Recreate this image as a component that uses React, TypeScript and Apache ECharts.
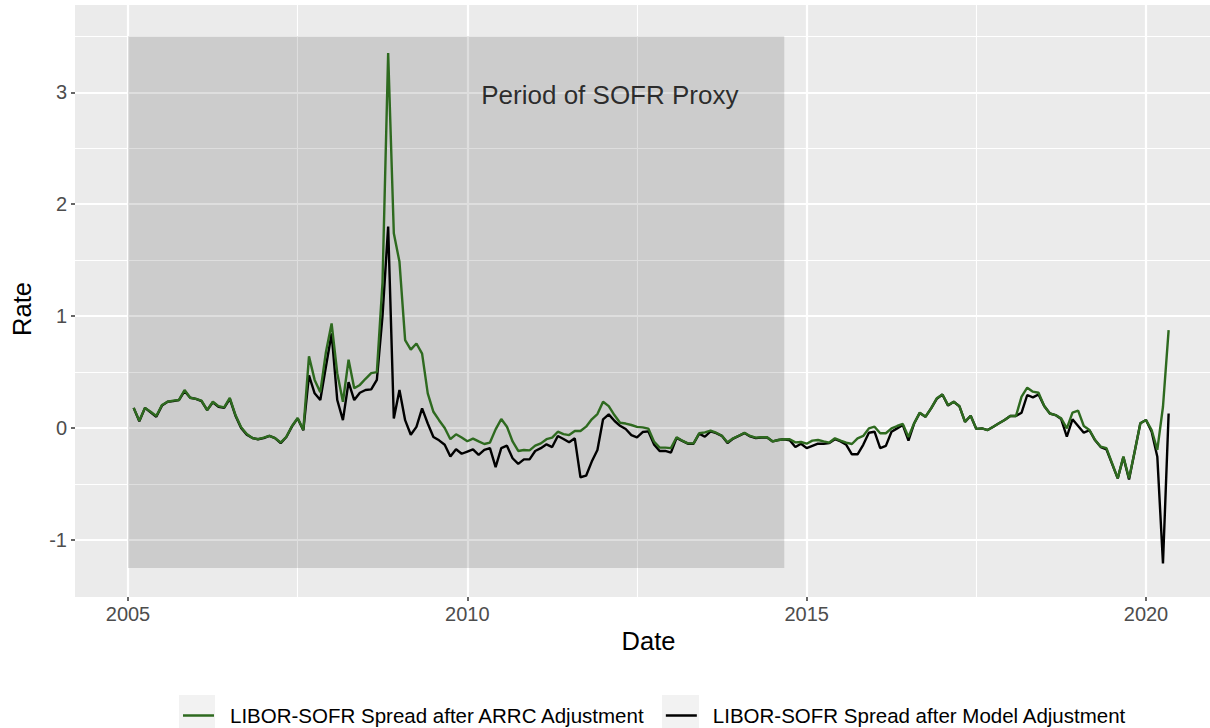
import React, { useEffect, useRef } from "react";
import * as echarts from "echarts";

// ---------- data (monthly, end of month, Jan 2005 .. Apr 2020) ----------
const startYear = 2005;
const arrcSpread: number[] = [
  0.18, 0.065, 0.18, 0.145, 0.107, 0.205, 0.235, 0.245, 0.25, 0.34,
  0.27, 0.26, 0.245, 0.16, 0.235, 0.196, 0.185, 0.27, 0.116, 0.006,
  -0.054, -0.09, -0.1, -0.086, -0.07, -0.09, -0.13, -0.078, 0.018, 0.09,
  -0.018, 0.64, 0.43, 0.32, 0.68, 0.935, 0.49, 0.235, 0.61, 0.355,
  0.385, 0.44, 0.49, 0.5, 1.3, 3.35, 1.74, 1.485, 0.785, 0.7,
  0.755, 0.665, 0.31, 0.145, 0.07, 0.0, -0.1, -0.056, -0.085, -0.118,
  -0.095, -0.12, -0.143, -0.13, -0.012, 0.08, 0.012, -0.12, -0.205, -0.196,
  -0.2, -0.158, -0.137, -0.1, -0.086, -0.033, -0.054, -0.063, -0.027, -0.027,
  0.012, 0.078, 0.125, 0.235, 0.196, 0.116, 0.047, 0.04, 0.027, 0.01,
  0.006, -0.005, -0.12, -0.175, -0.175, -0.18, -0.082, -0.113, -0.137, -0.137,
  -0.047, -0.039, -0.024, -0.042, -0.069, -0.128, -0.092, -0.069, -0.042, -0.071,
  -0.086, -0.083, -0.083, -0.12, -0.107, -0.1, -0.1, -0.128, -0.125, -0.14,
  -0.113, -0.107, -0.12, -0.13, -0.092, -0.113, -0.13, -0.143, -0.092, -0.071,
  -0.003, 0.012, -0.047, -0.047, -0.003, 0.018, 0.036, -0.08, 0.042, 0.137,
  0.101, 0.176, 0.265, 0.3, 0.205, 0.235, 0.196, 0.056, 0.11, -0.008,
  -0.003, -0.018, 0.012, 0.042, 0.071, 0.107, 0.107, 0.28, 0.36, 0.325,
  0.315, 0.196, 0.13, 0.116, 0.086, -0.003, 0.137, 0.155, 0.018, -0.018,
  -0.107, -0.167, -0.18, -0.315, -0.45, -0.256, -0.45, -0.21, 0.042, 0.071,
  -0.018, -0.196, 0.19, 0.875,
];
const modelSpread: number[] = [
  0.18, 0.06, 0.18, 0.14, 0.1, 0.2, 0.235, 0.24, 0.25, 0.33,
  0.27, 0.26, 0.24, 0.16, 0.23, 0.19, 0.18, 0.26, 0.11, 0.0,
  -0.06, -0.09, -0.1, -0.09, -0.07, -0.09, -0.135, -0.08, 0.015, 0.086,
  -0.02, 0.47, 0.31, 0.25, 0.55, 0.845, 0.25, 0.07, 0.41, 0.25,
  0.315, 0.34, 0.345, 0.43, 1.0, 1.8, 0.086, 0.34, 0.07, -0.06,
  0.01, 0.175, 0.04, -0.08, -0.11, -0.15, -0.255, -0.19, -0.23, -0.21,
  -0.19, -0.24, -0.196, -0.18, -0.35, -0.18, -0.158, -0.27, -0.32, -0.28,
  -0.28, -0.205, -0.18, -0.146, -0.17, -0.071, -0.098, -0.128, -0.092, -0.44,
  -0.426, -0.3, -0.196, 0.078, 0.122, 0.065, 0.02, -0.009, -0.063, -0.083,
  -0.036, -0.03, -0.146, -0.205, -0.205, -0.22, -0.088, -0.115, -0.14, -0.14,
  -0.05, -0.078, -0.03, -0.045, -0.07, -0.135, -0.095, -0.07, -0.045, -0.075,
  -0.09, -0.085, -0.085, -0.12, -0.107, -0.1, -0.11, -0.17, -0.14, -0.18,
  -0.16, -0.14, -0.14, -0.135, -0.1, -0.12, -0.15, -0.235, -0.235, -0.15,
  -0.042, -0.033, -0.18, -0.16, -0.033, -0.003, 0.027, -0.113, 0.04, 0.135,
  0.1, 0.175, 0.26, 0.3, 0.2, 0.235, 0.195, 0.055, 0.11, -0.008,
  -0.003, -0.018, 0.012, 0.042, 0.071, 0.107, 0.107, 0.137, 0.295, 0.274,
  0.3, 0.196, 0.13, 0.116, 0.08, -0.078, 0.078, 0.018, -0.042, -0.02,
  -0.11, -0.17, -0.19, -0.32, -0.45, -0.26, -0.46, -0.21, 0.042, 0.071,
  -0.033, -0.256, -1.21, 0.13,
];
const seriesNames = [
  "LIBOR-SOFR Spread after ARRC Adjustment",
  "LIBOR-SOFR Spread after Model Adjustment",
];
const proxyPeriod = { x: [2005, 2014.67], y: [-1.25, 3.5] };
const proxyLabel = { text: "Period of SOFR Proxy", x: 2012.1, y: 2.98 };
const xTicks = { min: 2005, max: 2020, step: 5 };
const yTicks = { min: -1, max: 3, step: 1 };

// ---------- layout ----------
const W = 1210;
const H = 728;
const X0 = 75, X1 = 1210; // panel pixel edges (panel runs past the right edge)
const Y0 = 5, Y1 = 597;
const xMin = 2004.219, xMax = 2020.943;
const yMin = -1.51, yMax = 3.78;
const px = (v: number) => X0 + ((v - xMin) * (X1 - X0)) / (xMax - xMin);
const py = (v: number) => Y0 + ((yMax - v) * (Y1 - Y0)) / (yMax - yMin);
const FONT = "'Liberation Sans', Arial, Helvetica, sans-serif";

export default function App() {
  const ref = useRef<HTMLDivElement>(null);
  useEffect(() => {
    if (!ref.current) return;
    const chart = echarts.init(ref.current, undefined, { renderer: "svg" });
    const dates = arrcSpread.map((_, i) => startYear + (i + 1) / 12);
    const arrcData = dates.map((d, i) => [d, arrcSpread[i]]);
    const modelData = dates.map((d, i) => [d, modelSpread[i]]);

    const hiddenAxis = (gridIndex: number) => ({
      type: "value", gridIndex, min: 0, max: 1, show: false,
    });
    const majorLine = { show: true, lineStyle: { color: "#FFFFFF", width: 2.2 } };
    const minorLine = { show: true, lineStyle: { color: "#FFFFFF", width: 1.1 } };
    const tick = { show: true, length: 4, lineStyle: { color: "#333333", width: 1.5 } };
    const label = { show: true, fontSize: 20, color: "#4D4D4D", fontFamily: FONT };

    chart.setOption({
      animation: false,
      textStyle: { fontFamily: FONT },
      grid: [
        { left: X0, right: W - X1, top: Y0, bottom: H - Y1, show: true, backgroundColor: "#EBEBEB", borderWidth: 0 },
        { left: px(xTicks.min), right: W - px(xTicks.max), top: Y0, bottom: H - Y1 },
        { left: px(xTicks.min + xTicks.step / 2), right: W - px(xTicks.max - xTicks.step / 2), top: Y0, bottom: H - Y1 },
        { left: X0, right: W - X1, top: py(yTicks.max), bottom: H - py(yTicks.min) },
        { left: X0, right: W - X1, top: py(yTicks.max + yTicks.step / 2), bottom: H - py(yTicks.min + yTicks.step / 2) },
      ],
      xAxis: [
        {
          type: "value", gridIndex: 0, min: xMin, max: xMax,
          axisLine: { show: false }, axisTick: { show: false }, axisLabel: { show: false }, splitLine: { show: false },
          name: "Date", nameLocation: "middle", nameGap: 31,
          nameTextStyle: { fontSize: 25.5, color: "#000", fontFamily: FONT, padding: [0, 0, 0, 12] },
        },
        {
          type: "value", gridIndex: 1, min: xTicks.min, max: xTicks.max, interval: xTicks.step,
          axisLine: { show: false }, axisTick: tick,
          axisLabel: { ...label, margin: 7, formatter: (v: number) => String(Math.round(v)) },
          splitLine: majorLine,
        },
        {
          type: "value", gridIndex: 2, min: xTicks.min + xTicks.step / 2, max: xTicks.max - xTicks.step / 2, interval: xTicks.step,
          axisLine: { show: false }, axisTick: { show: false }, axisLabel: { show: false }, splitLine: minorLine,
        },
        hiddenAxis(3),
        hiddenAxis(4),
      ],
      yAxis: [
        {
          type: "value", gridIndex: 0, min: yMin, max: yMax,
          axisLine: { show: false }, axisTick: { show: false }, axisLabel: { show: false }, splitLine: { show: false },
          name: "Rate", nameLocation: "middle", nameGap: 40, nameRotate: 90,
          nameTextStyle: { fontSize: 25.5, color: "#000", fontFamily: FONT, padding: [0, 16, 0, 0] },
        },
        hiddenAxis(1),
        hiddenAxis(2),
        {
          type: "value", gridIndex: 3, min: yTicks.min, max: yTicks.max, interval: yTicks.step,
          axisLine: { show: false }, axisTick: tick, axisLabel: { ...label, margin: 8 }, splitLine: majorLine,
        },
        {
          type: "value", gridIndex: 4, min: yTicks.min + yTicks.step / 2, max: yTicks.max + yTicks.step / 2, interval: yTicks.step,
          axisLine: { show: false }, axisTick: { show: false }, axisLabel: { show: false }, splitLine: minorLine,
        },
      ],
      legend: {
        data: seriesNames,
        left: 178, top: 700,
        icon: "rect", itemWidth: 31, itemHeight: 2.5, itemGap: 20,
        textStyle: { fontSize: 20.5, color: "#000", fontFamily: FONT, padding: [0, 0, 0, 11] },
      },
      graphic: [
        { type: "rect", left: 179, top: 695, z: -1, shape: { width: 36, height: 40 }, style: { fill: "#F2F2F2" } },
        { type: "rect", left: 662, top: 695, z: -1, shape: { width: 37, height: 40 }, style: { fill: "#F2F2F2" } },
      ],
      series: [
        {
          name: seriesNames[1], type: "line", xAxisIndex: 0, yAxisIndex: 0, data: modelData,
          showSymbol: false, z: 3, color: "#000000", lineStyle: { color: "#000000", width: 2.4 },
        },
        {
          name: seriesNames[0], type: "line", xAxisIndex: 0, yAxisIndex: 0, data: arrcData,
          showSymbol: false, z: 4, color: "#2E6A1F", lineStyle: { color: "#2E6A1F", width: 2.4 },
          markArea: {
            silent: true,
            itemStyle: { color: "rgba(0,0,0,0.13)" },
            data: [[
              { coord: [proxyPeriod.x[0], proxyPeriod.y[0]] },
              { coord: [proxyPeriod.x[1], proxyPeriod.y[1]] },
            ]],
          },
        },
        {
          type: "scatter", xAxisIndex: 0, yAxisIndex: 0, data: [[proxyLabel.x, proxyLabel.y]],
          symbolSize: 0, z: 5, silent: true,
          label: {
            show: true, position: "inside", formatter: proxyLabel.text,
            fontSize: 26, color: "#000", fontFamily: FONT,
          },
        },
      ],
    });
    return () => chart.dispose();
  }, []);
  return (
    <div
      ref={ref}
      style={{ position: "fixed", left: 0, top: 0, width: W, height: H, background: "#FFFFFF" }}
    />
  );
}
